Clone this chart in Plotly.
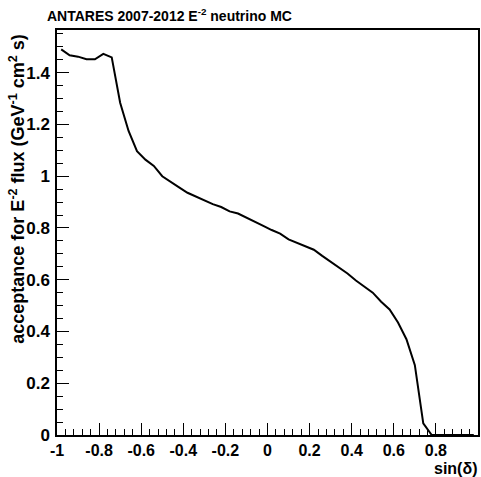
import plotly.graph_objects as go

# bin centres of sin(delta) (50 bins of width 0.04)
sin_dec = [-0.98, -0.94, -0.90, -0.86, -0.82, -0.78, -0.74, -0.70, -0.66, -0.62,
           -0.58, -0.54, -0.50, -0.46, -0.42, -0.38, -0.34, -0.30, -0.26, -0.22,
           -0.18, -0.14, -0.10, -0.06, -0.02, 0.02, 0.06, 0.10, 0.14, 0.18,
           0.22, 0.26, 0.30, 0.34, 0.38, 0.42, 0.46, 0.50, 0.54, 0.58,
           0.62, 0.66, 0.70, 0.74, 0.78, 0.82, 0.86, 0.90, 0.94, 0.98]
acceptance = [1.490, 1.467, 1.462, 1.452, 1.452, 1.473, 1.459, 1.284, 1.175, 1.097,
              1.064, 1.040, 1.000, 0.977, 0.957, 0.936, 0.921, 0.909, 0.892, 0.881,
              0.864, 0.856, 0.839, 0.822, 0.808, 0.792, 0.778, 0.756, 0.742, 0.730,
              0.716, 0.692, 0.670, 0.647, 0.624, 0.597, 0.573, 0.550, 0.515, 0.485,
              0.435, 0.370, 0.270, 0.045, 0.0, 0.0, 0.0, 0.0, 0.0, 0.0]

x_tickvals = [-1, -0.8, -0.6, -0.4, -0.2, 0, 0.2, 0.4, 0.6, 0.8, 1]
x_ticktext = ["-1", "-0.8", "-0.6", "-0.4", "-0.2", "0", "0.2", "0.4", "0.6", "0.8", "1"]
y_tickvals = [0, 0.2, 0.4, 0.6, 0.8, 1.0, 1.2, 1.4]
y_ticktext = ["0", "0.2", "0.4", "0.6", "0.8", "1", "1.2", "1.4"]

FONT = "Liberation Sans, Arial, Helvetica, sans-serif"
W, H = 481, 477
L, R, T, B = 57, 1, 29.5, 42
pw, ph = W - L - R, H - T - B

fig = go.Figure()
fig.add_trace(go.Scatter(x=sin_dec, y=acceptance, mode="lines",
                         line=dict(color="black", width=2), showlegend=False))

axis_common = dict(showgrid=False, zeroline=False, showline=True, linecolor="black",
                   linewidth=1.5, mirror=True, ticks="inside", ticklen=12, tickwidth=1,
                   tickcolor="black")

fig.update_xaxes(range=[-1, 1], tickmode="array", tickvals=x_tickvals, ticktext=x_ticktext,
                 minor=dict(ticks="inside", dtick=0.04, ticklen=6, tickcolor="black", tickwidth=1),
                 ticklabelstandoff=0,
                 tickfont=dict(family=FONT, size=16, color="black", weight="bold"),
                 **axis_common)
fig.update_yaxes(range=[0, 1.565], tickmode="array", tickvals=y_tickvals, ticktext=y_ticktext,
                 minor=dict(ticks="inside", dtick=0.05, ticklen=6, tickcolor="black", tickwidth=1),
                 ticklabelstandoff=2,
                 tickfont=dict(family=FONT, size=17, color="black", weight="bold"),
                 **axis_common)

def px_x(p):
    return (p - L) / pw

def px_y(p):
    return (H - B - p) / ph

fig.add_annotation(text="acceptance for E<sup>-2</sup> flux (GeV<sup>-1</sup> cm<sup>2</sup> s)",
                   textangle=-90, xref="paper", yref="paper", x=px_x(17), y=px_y(31),
                   xanchor="center", yanchor="top", showarrow=False,
                   font=dict(family=FONT, size=18, color="black", weight="bold"))
fig.add_annotation(text="sin(δ)", xref="paper", yref="paper", x=px_x(480), y=px_y(478),
                   xanchor="right", yanchor="bottom", showarrow=False, borderpad=0,
                   font=dict(family=FONT, size=16, color="black", weight="bold"))

fig.update_layout(
    width=W, height=H, autosize=False,
    margin=dict(l=L, r=R, t=T, b=B, pad=0),
    paper_bgcolor="white", plot_bgcolor="white",
    title=dict(text="ANTARES 2007-2012 E<sup>-2</sup> neutrino MC", xref="container", yref="container",
               x=47 / W, y=1 - 16 / H, xanchor="left", yanchor="middle",
               font=dict(family=FONT, size=14, color="black", weight="bold")),
)

fig.write_html("out.html")
